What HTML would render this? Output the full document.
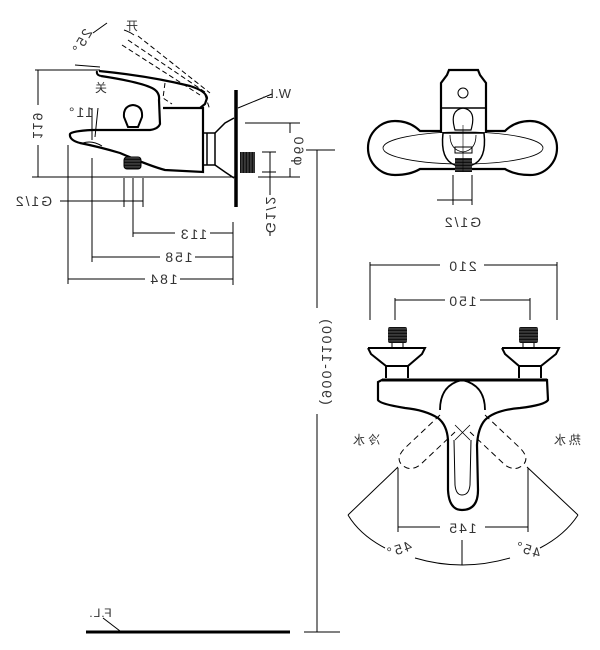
<!DOCTYPE html>
<html><head><meta charset="utf-8"><style>
html,body{margin:0;padding:0;background:#fff;}
svg{display:block;}
text{font-family:"Liberation Sans","Noto Sans CJK SC",sans-serif;fill:#333;}
</style></head><body>
<svg width="600" height="650" viewBox="0 0 600 650" xmlns="http://www.w3.org/2000/svg">
<defs>
<pattern id="thr" width="4" height="3" patternUnits="userSpaceOnUse">
<rect width="4" height="3" fill="#111"/><rect y="1.6" width="4" height="0.7" fill="#777"/>
</pattern>
<pattern id="thrv" width="3" height="4" patternUnits="userSpaceOnUse">
<rect width="3" height="4" fill="#111"/><rect x="1.6" width="0.7" height="4" fill="#777"/>
</pattern>
</defs>
<g fill="none" stroke="#000" stroke-width="1">
<!-- ===== SIDE VIEW ===== -->
<path d="M99,71 Q150,76 190,86 Q206,91 207,98 L205,104 L200,108 M101,76 Q140,82 152,88 Q160,92 159,100 L160,124 Q158,129 150,130 L92,130 Q72,131 70,134 Q69,140 80,143 Q100,147 120,153 Q150,166 165,170 L203,172 L203,108 L163,108" stroke-width="2.2"/>
<path d="M97,71 Q96,75 101,76" stroke-width="2"/>
<path d="M128,127 L124,117 Q123,106 133,105 Q143,106 142,117 L138,127 Z" stroke-width="2"/>
<path d="M83,143 Q92,140 102,146" stroke-width="1"/>
<rect x="124" y="157" width="17" height="12" rx="3" fill="url(#thr)"/>
<path d="M203,133 L215,133 L215,165 L203,165 M207,133 L207,165" stroke-width="1.5"/>
<path d="M215,133 L225,123 L234,118 M215,165 L225,172 L234,178" stroke-width="1.5"/>
<path d="M122,45 L200,95 M128,40 L205,92 M138,36 L210,93 M165,83 L163,98 L172,104 M205,95 L210,110" stroke-dasharray="5,3"/>
<path d="M124,30 Q130,32 134,35"/>
<path d="M75,65 L100,67 M93,33 L107,23"/>
<path d="M92,108 L92,140 M98,108 L95,137"/>
<line x1="236" y1="90" x2="236" y2="207" stroke-width="3.5"/>
<line x1="238" y1="108" x2="272" y2="94"/>
<rect x="240" y="152" width="15" height="21" fill="url(#thrv)" stroke="none"/>
<path d="M35,70 L100,70 M38,70 L38,105 M38,145 L38,177 M32,177 L236,177 M245,123 L300,123 M290,123 L290,133 M290,168 L290,177 M300,177 L258,177 M270,152 L270,195 M270,232 L270,236 M262,152 L276,152 M262,172 L276,172"/>
<path d="M124,178 L124,207 M133,178 L133,237 M143,178 L143,207 M60,201 L143,201"/>
<path d="M68,145 L68,284 M92,158 L92,262 M233,222 L233,285"/>
<path d="M133,233 L175,233 M210,233 L233,233 M92,257 L160,257 M195,257 L233,257 M68,279 L145,279 M180,279 L233,279"/>
<path d="M317,150 L317,308 M317,414 L317,632 M306,150 L335,150 M304,632 L340,632"/>
<line x1="86" y1="632" x2="290" y2="632" stroke-width="3"/>
<line x1="103" y1="618" x2="120" y2="631"/>

<!-- ===== TOP VIEW ===== -->
<path d="M441,133 L441,83 L447,75 L449,70 L478,70 L480,75 L486,83 L486,133" stroke-width="2.2"/>
<line x1="441" y1="108" x2="486" y2="108" stroke-width="1.5"/>
<circle cx="463" cy="93" r="5"/>
<path d="M455,130 Q449,110 463,108 Q477,110 471,130 Z" stroke-width="1.2"/>
<path d="M441,131 L420,131 Q410,121 395,121 A27,27 0 0 0 395,175 Q410,175 420,169 L505,169 Q515,175 530,175 A27,27 0 0 0 530,121 Q515,121 505,131 L486,131" stroke-width="2.2"/>
<ellipse cx="463" cy="148" rx="80" ry="16" stroke-width="0.8"/>
<path d="M443,133 Q440,160 455,165 L472,165 Q487,160 484,133 Z" stroke-width="1.5"/>
<path d="M450,135 Q450,150 463,152 Q476,150 476,135" stroke-width="0.8"/>
<rect x="455" y="147" width="17" height="6"/>
<rect x="455" y="158" width="17" height="14" fill="url(#thr)" stroke="none"/>
<line x1="463" y1="125" x2="463" y2="172" stroke-width="0.6"/>
<path d="M453,175 L453,205 M472,175 L472,205 M437,200 L472,200"/>

<!-- ===== FRONT VIEW ===== -->
<path d="M370,262 L370,320 M557,262 L557,320 M370,265 L440,265 M484,265 L557,265 M395,298 L395,320 M530,298 L530,320 M395,300 L445,300 M480,300 L530,300"/>
<rect x="388" y="327" width="19" height="16" rx="2" fill="url(#thr)" stroke="none"/>
<path d="M392,343 L392,348 M403,343 L403,348"/>
<path d="M368,348 L425,348 L422,354 L408,366 L408,378 M368,348 L371,354 L386,366 L386,378 M386,366 L408,366" stroke-width="2"/>
<rect x="519" y="327" width="19" height="16" rx="2" fill="url(#thr)" stroke="none"/>
<path d="M523,343 L523,348 M534,343 L534,348"/>
<path d="M502,348 L559,348 L556,354 L541,366 L541,378 M502,348 L505,354 L519,366 L519,378 M519,366 L541,366" stroke-width="2"/>
<path d="M382,380 L547,380 L548,400 Q545,405 520,408 Q495,410 485,420 Q478,428 477,445 L478,490 Q478,510 462,510 Q449,510 448,490 L448,440 Q447,425 438,418 Q425,410 405,408 Q380,404 378,400 L378,382 Z" stroke-width="2.2"/>
<line x1="382" y1="380" x2="547" y2="380" stroke-width="3"/>
<path d="M440,410 Q440,385 462,380 Q485,385 485,410" stroke-width="1.8"/>
<path d="M454,440 L455,485 Q456,495 462,495 Q469,495 470,485 L471,440" stroke-width="1"/>
<path d="M440,415 L405,448 Q395,458 402,465 Q410,472 420,465 L455,432" stroke-dasharray="6,4"/>
<path d="M485,415 L520,448 Q530,458 523,465 Q515,472 505,465 L470,432" stroke-dasharray="6,4"/>
<path d="M455,425 L470,440 M470,425 L455,440" stroke-width="0.8"/>
<path d="M398,468 L398,532 M528,468 L528,532 M398,527 L440,527 M485,527 L528,527"/>
<path d="M398,467 L348,515 M527,467 L578,515 M462,540 L462,565"/>
<path d="M348,515 Q360,535 385,548 M415,558 Q462,572 510,558 M540,548 Q565,535 578,515"/>
</g>
<g font-size="14" text-anchor="middle" letter-spacing="2">
<text transform="translate(132,30) scale(-1,1)" font-size="12" letter-spacing="0">开</text>
<text transform="translate(101,92) scale(-1,1)" font-size="12" letter-spacing="0">关</text>
<text transform="translate(86,44) rotate(-60) scale(-1,1)">25°</text>
<text transform="translate(80,117) scale(-1,1)">11°</text>
<text transform="translate(276,98) scale(-1,1)" font-size="13" letter-spacing="1">W.L.</text>
<text transform="translate(33,125) rotate(-90) scale(1,-1)">119</text>
<text transform="translate(294,150) rotate(-90) scale(1,-1)">φ60</text>
<text transform="translate(266,214) rotate(-90) scale(1,-1)">G1/2</text>
<text transform="translate(33,206) scale(-1,1)">G1/2</text>
<text transform="translate(193,239) scale(-1,1)">113</text>
<text transform="translate(178,262) scale(-1,1)">158</text>
<text transform="translate(163,284) scale(-1,1)">184</text>
<text transform="translate(322,361) rotate(-90) scale(1,-1)">(900-1100)</text>
<text transform="translate(100,617) scale(-1,1)" font-size="12" letter-spacing="1">F.L.</text>
<text transform="translate(462,227) scale(-1,1)">G1/2</text>
<text transform="translate(462,271) scale(-1,1)">210</text>
<text transform="translate(462,306) scale(-1,1)">150</text>
<text transform="translate(462,533) scale(-1,1)">145</text>
<text transform="translate(365,444) scale(-1,1)" font-size="12" letter-spacing="3">冷水</text>
<text transform="translate(566,444) scale(-1,1)" font-size="12" letter-spacing="3">热水</text>
<text transform="translate(400,554) rotate(-18) scale(-1,1)">45°</text>
<text transform="translate(526,554) rotate(18) scale(-1,1)">45°</text>
</g>
</svg>
</body></html>
